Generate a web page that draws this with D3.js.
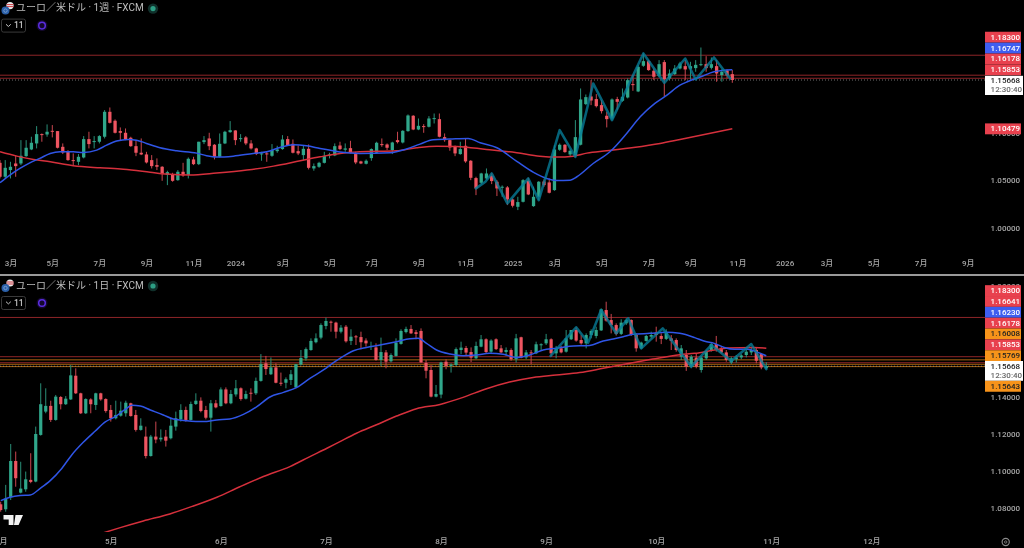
<!DOCTYPE html>
<html><head><meta charset="utf-8">
<script src="https://cdn.jsdelivr.net/npm/d3@7"></script>
<style>
html,body{margin:0;padding:0;background:#000;overflow:hidden}
svg{display:block;filter:blur(.3px)}
text{font-family:Roboto,"Noto Sans CJK JP",sans-serif}
</style></head><body><svg id="c" width="1024" height="548"></svg>
<script>
// ---- weekly pane data ----
const weeklyOpen=[1.0687,1.0539,1.0610,1.0680,1.0680,1.0758,1.0829,1.0893,1.0992,1.0988,
1.1027,1.1024,1.0857,1.0804,1.0716,1.0698,1.0744,1.0939,1.0914,1.0911,
1.0964,1.1229,1.1134,1.1024,1.1006,1.0953,1.0864,1.0794,1.0776,1.0716,
1.0663,1.0645,1.0560,1.0560,1.0503,1.0592,1.0557,1.0723,1.0673,1.0907,
1.0946,1.0879,1.0751,1.0893,1.1013,1.1031,1.0942,1.0957,1.0893,1.0840,
1.0780,1.0787,1.0762,1.0811,1.0833,1.0939,1.0889,1.0811,1.0769,1.0836,
1.0627,1.0645,1.0687,1.0765,1.0765,1.0871,1.0826,1.0843,1.0780,1.0702,
1.0677,1.0737,1.0794,1.0886,1.0882,1.0822,1.0928,1.0903,1.1024,1.1187,
1.1041,1.1077,1.1070,1.1155,1.1151,1.0960,1.0928,1.0857,1.0780,1.0868,
1.0709,1.0525,1.0475,1.0521,1.0549,1.0486,1.0426,1.0426,1.0298,1.0220,
1.0273,1.0496,1.0227,1.0326,1.0489,1.0479,1.0397,1.0826,1.0879,1.0776,
1.0769,1.0879,1.1311,1.1392,1.1364,1.1300,1.1187,1.1158,1.1364,1.1346,
1.1381,1.1523,1.1445,1.1718,1.1767,1.1665,1.1608,1.1757,1.1583,1.1629,
1.1689,1.1714,1.1686,1.1693,1.1725,1.1735,1.1696,1.1714,1.1619,1.1668,1.1629];
const weeklyHigh=[1.0716,1.0716,1.0698,1.0769,1.0928,1.0928,1.0964,1.1077,1.0999,1.1095,
1.1088,1.1024,1.0893,1.0822,1.0787,1.0780,1.0971,1.1017,1.0971,1.0981,
1.1247,1.1275,1.1148,1.1063,1.1052,1.0964,1.0928,1.0946,1.0804,1.0769,
1.0734,1.0652,1.0603,1.0581,1.0610,1.0687,1.0744,1.0751,1.0911,1.0971,
1.1006,1.0886,1.0999,1.1027,1.1130,1.1034,1.0992,1.0971,1.0928,1.0847,
1.0804,1.0804,1.0886,1.0868,1.0981,1.0971,1.0935,1.0871,1.0871,1.0882,
1.0680,1.0698,1.0804,1.0794,1.0893,1.0911,1.0893,1.0921,1.0804,1.0709,
1.0723,1.0840,1.0911,1.0946,1.0893,1.0911,1.1017,1.1034,1.1201,1.1194,
1.1158,1.1098,1.1183,1.1211,1.1211,1.0999,1.0935,1.0871,1.0911,1.0946,
1.0716,1.0539,1.0581,1.0627,1.0574,1.0503,1.0447,1.0440,1.0309,1.0326,
1.0514,1.0528,1.0433,1.0493,1.0510,1.0521,1.0875,1.0893,1.0886,1.0829,
1.1141,1.1477,1.1413,1.1565,1.1417,1.1353,1.1229,1.1371,1.1388,1.1477,
1.1583,1.1619,1.1725,1.1849,1.1778,1.1689,1.1778,1.1778,1.1679,1.1725,
1.1760,1.1778,1.1760,1.1778,1.1912,1.1820,1.1806,1.1778,1.1679,1.1679,1.1672];
const weeklyLow=[1.0521,1.0521,1.0521,1.0539,1.0663,1.0751,1.0822,1.0840,1.0911,1.0964,
1.0957,1.0840,1.0780,1.0709,1.0656,1.0663,1.0734,1.0840,1.0840,1.0893,
1.0946,1.1105,1.0999,1.0928,1.0928,1.0857,1.0758,1.0769,1.0680,1.0627,
1.0610,1.0496,1.0450,1.0486,1.0496,1.0539,1.0521,1.0663,1.0663,1.0886,
1.0822,1.0723,1.0744,1.0886,1.1006,1.0875,1.0911,1.0875,1.0829,1.0769,
1.0709,1.0698,1.0751,1.0794,1.0826,1.0868,1.0787,1.0769,1.0716,1.0617,
1.0603,1.0634,1.0680,1.0734,1.0758,1.0822,1.0804,1.0787,1.0673,1.0673,
1.0670,1.0709,1.0787,1.0857,1.0822,1.0780,1.0893,1.0893,1.1017,1.1034,
1.1034,1.1006,1.1063,1.1105,1.0957,1.0911,1.0815,1.0758,1.0773,1.0687,
1.0503,1.0344,1.0461,1.0510,1.0461,1.0334,1.0326,1.0238,1.0213,1.0185,
1.0266,1.0344,1.0220,1.0291,1.0433,1.0362,1.0390,1.0815,1.0794,1.0751,
1.0751,1.0872,1.1300,1.1300,1.1275,1.1211,1.1063,1.1141,1.1247,1.1335,
1.1371,1.1452,1.1438,1.1707,1.1665,1.1565,1.1594,1.1388,1.1565,1.1619,
1.1679,1.1565,1.1572,1.1654,1.1714,1.1654,1.1679,1.1548,1.1548,1.1583,1.1537];
const weeklyClose=[1.0539,1.0634,1.0645,1.0652,1.0762,1.0847,1.0900,1.0992,1.0985,1.1017,
1.1017,1.0847,1.0797,1.0716,1.0709,1.0751,1.0939,1.0886,1.0918,1.0971,
1.1229,1.1112,1.1006,1.1006,1.0939,1.0864,1.0794,1.0776,1.0691,1.0652,
1.0645,1.0567,1.0588,1.0496,1.0592,1.0553,1.0730,1.0673,1.0911,1.0928,
1.0864,1.0751,1.0889,1.1017,1.1034,1.0928,1.0949,1.0893,1.0840,1.0780,
1.0787,1.0780,1.0822,1.0829,1.0935,1.0875,1.0794,1.0787,1.0836,1.0634,
1.0652,1.0687,1.0758,1.0776,1.0864,1.0833,1.0840,1.0794,1.0691,1.0680,
1.0709,1.0833,1.0900,1.0875,1.0847,1.0903,1.0907,1.1027,1.1190,1.1041,
1.1080,1.1070,1.1158,1.1162,1.0964,1.0928,1.0850,1.0787,1.0833,1.0702,
1.0528,1.0415,1.0574,1.0574,1.0493,1.0415,1.0433,1.0298,1.0231,1.0270,
1.0503,1.0351,1.0326,1.0486,1.0450,1.0369,1.0829,1.0879,1.0801,1.0815,
1.0960,1.1360,1.1385,1.1349,1.1289,1.1236,1.1151,1.1360,1.1335,1.1388,
1.1565,1.1516,1.1707,1.1767,1.1672,1.1601,1.1735,1.1573,1.1636,1.1689,
1.1742,1.1679,1.1714,1.1728,1.1735,1.1693,1.1735,1.1636,1.1654,1.1615,1.15668];
const weeklyBlueBars=[0,1.9,3.8,5.7,7.6,9.6,11.5,14,15.9,18.5,20.4,22.3,24.5,26.1,28,30.6,33.8,37.6,39.5,41.4,44.6,48.4,51,53.5,56.1,58.6,61.2,63.7,65,68.8,74.6,77.7,80.3,82.8,86,89.5,91.8,95,98.8,102,104.5,106.4,109,110.3,113.4,116.6,119.8,122.4,125.2,127.5,130,131.4,134,136.5,138,140];
const weeklyBlueValues=[1.0475,1.0557,1.0627,1.0687,1.0734,1.0787,1.0804,1.0804,1.0797,1.0822,1.0875,1.0918,1.0935,1.0928,1.0893,1.0847,1.0815,1.0790,1.0762,1.0748,1.0758,1.0787,1.0804,1.0850,1.0879,1.0868,1.0840,1.0815,1.0801,1.0787,1.0794,1.0833,1.0886,1.0932,1.0939,1.0946,1.0900,1.0847,1.0702,1.0585,1.0521,1.0500,1.0503,1.0539,1.0680,1.0804,1.0999,1.1176,1.1318,1.1406,1.1512,1.1548,1.1601,1.1654,1.1668,1.16747];
const weeklyRedBars=[0,3.2,6.4,9.6,14,19.1,23.6,28.7,31.9,36.3,41.4,47.2,52.3,57.4,61.2,65,68.8,75.8,79.7,83.5,87.3,93,98.8,103.2,106.4,109.6,112.2,116,121.1,126.2,130,140];
const weeklyRedValues=[1.0804,1.0758,1.0723,1.0698,1.0656,1.0634,1.0620,1.0588,1.0567,1.0557,1.0578,1.0610,1.0652,1.0709,1.0751,1.0787,1.0804,1.0815,1.0847,1.0864,1.0861,1.0829,1.0794,1.0758,1.0748,1.0758,1.0790,1.0815,1.0850,1.0893,1.0935,1.10479];
const weeklyZigBars=[91,92.8,94,97,101,103,107,110,113.4,117,123,127,131,133,136.5,139.6];
const weeklyZigValues=[1.0415,1.0486,1.0574,1.0256,1.0521,1.0291,1.1034,1.0751,1.1530,1.1141,1.1849,1.1537,1.1795,1.1572,1.1806,1.1583];
const weeklyLevels=[1.183,1.16178,1.15853];
const weeklyTickBars=[2,10,19,28,37,45,54,63,71,80,89,98,106,115,124,132,141,150,158,167,176,185];
const weeklyTickLabels=["3月","5月","7月","9月","11月","2024","3月","5月","7月","9月","11月","2025","3月","5月","7月","9月","11月","2026","3月","5月","7月","9月"];
const weeklyPriceTicks=[1.10,1.05,1.00];
const weeklyStackValues=[1.183,1.16747,1.16178,1.15853];
const weeklyStackKinds=["red","blue","red","red"];
const weeklyMaLabel=1.10479;
const weeklyTitle="ユーロ／米ドル · 1週 · FXCM";

// ---- daily pane data ----
const dailyOpen=[1.0820,1.0793,1.0858,1.1054,1.0883,1.0901,1.0952,1.0943,1.1195,1.1321,
1.1352,1.1276,1.1400,1.1361,1.1387,1.1515,1.1420,1.1312,1.1387,1.1357,
1.1420,1.1389,1.1330,1.1285,1.1299,1.1312,1.1366,1.1303,1.1222,1.1186,
1.1081,1.1186,1.1171,1.1186,1.1177,1.1240,1.1279,1.1330,1.1276,1.1362,
1.1380,1.1330,1.1288,1.1366,1.1351,1.1441,1.1366,1.1414,1.1447,1.1391,
1.1423,1.1420,1.1487,1.1582,1.1523,1.1560,1.1477,1.1477,1.1492,1.1452,
1.1575,1.1609,1.1654,1.1696,1.1721,1.1784,1.1807,1.1802,1.1753,1.1780,
1.1703,1.1728,1.1724,1.1705,1.1674,1.1668,1.1600,1.1641,1.1593,1.1622,
1.1687,1.1751,1.1768,1.1750,1.1757,1.1584,1.1546,1.1402,1.1413,1.1591,
1.1568,1.1573,1.1654,1.1665,1.1643,1.1609,1.1672,1.1712,1.1645,1.1712,
1.1663,1.1643,1.1654,1.1604,1.1723,1.1614,1.1641,1.1636,1.1681,1.1690,
1.1712,1.1636,1.1663,1.1645,1.1712,1.1762,1.1708,1.1690,1.1735,1.1730,
1.1760,1.1870,1.1816,1.1789,1.1741,1.1798,1.1816,1.1735,1.1663,1.1703,
1.1726,1.1748,1.1730,1.1714,1.1717,1.1708,1.1618,1.1627,1.1564,1.1613,
1.1546,1.1609,1.1649,1.1686,1.1663,1.1641,1.1586,1.1604,1.1614,1.1627,
1.1641,1.1654,1.1632,1.1555];
const dailyHigh=[1.0834,1.0925,1.1146,1.1105,1.1050,1.0997,1.1096,1.1240,1.1474,1.1447,
1.1380,1.1411,1.1405,1.1405,1.1573,1.1555,1.1423,1.1393,1.1393,1.1423,
1.1423,1.1393,1.1357,1.1380,1.1375,1.1380,1.1369,1.1330,1.1285,1.1240,
1.1195,1.1267,1.1225,1.1222,1.1285,1.1321,1.1361,1.1348,1.1375,1.1420,
1.1398,1.1352,1.1384,1.1384,1.1452,1.1452,1.1438,1.1492,1.1452,1.1434,
1.1447,1.1505,1.1632,1.1622,1.1614,1.1582,1.1532,1.1506,1.1546,1.1578,
1.1654,1.1668,1.1717,1.1744,1.1798,1.1829,1.1813,1.1807,1.1789,1.1789,
1.1766,1.1735,1.1753,1.1717,1.1699,1.1690,1.1721,1.1654,1.1636,1.1717,
1.1766,1.1780,1.1789,1.1762,1.1771,1.1600,1.1573,1.1465,1.1591,1.1604,
1.1582,1.1668,1.1699,1.1676,1.1668,1.1699,1.1735,1.1717,1.1712,1.1717,
1.1681,1.1668,1.1663,1.1741,1.1726,1.1654,1.1654,1.1699,1.1690,1.1741,
1.1717,1.1676,1.1676,1.1762,1.1762,1.1776,1.1735,1.1744,1.1766,1.1780,
1.1879,1.1915,1.1849,1.1798,1.1820,1.1825,1.1820,1.1744,1.1699,1.1735,
1.1753,1.1780,1.1744,1.1766,1.1735,1.1717,1.1681,1.1654,1.1627,1.1636,
1.1622,1.1654,1.1694,1.1730,1.1672,1.1654,1.1618,1.1627,1.1632,1.1658,
1.1668,1.1668,1.1636,1.1588];
const dailyLow=[1.0780,1.0780,1.0843,1.0915,1.0879,1.0888,1.0934,1.0939,1.1191,1.1312,
1.1265,1.1272,1.1333,1.1357,1.1384,1.1416,1.1308,1.1308,1.1312,1.1330,
1.1380,1.1315,1.1267,1.1279,1.1294,1.1294,1.1294,1.1213,1.1218,1.1068,
1.1078,1.1150,1.1159,1.1132,1.1171,1.1218,1.1267,1.1267,1.1272,1.1357,
1.1317,1.1279,1.1213,1.1339,1.1348,1.1361,1.1361,1.1402,1.1380,1.1387,
1.1375,1.1411,1.1483,1.1519,1.1519,1.1474,1.1460,1.1447,1.1465,1.1447,
1.1571,1.1596,1.1650,1.1690,1.1712,1.1766,1.1753,1.1717,1.1744,1.1694,
1.1681,1.1681,1.1658,1.1672,1.1654,1.1596,1.1568,1.1555,1.1586,1.1618,
1.1683,1.1744,1.1741,1.1712,1.1584,1.1501,1.1398,1.1398,1.1393,1.1550,
1.1532,1.1568,1.1632,1.1622,1.1589,1.1604,1.1669,1.1636,1.1636,1.1654,
1.1636,1.1622,1.1596,1.1586,1.1609,1.1604,1.1577,1.1632,1.1654,1.1681,
1.1618,1.1609,1.1636,1.1640,1.1708,1.1699,1.1683,1.1663,1.1717,1.1717,
1.1757,1.1807,1.1744,1.1732,1.1735,1.1789,1.1730,1.1645,1.1658,1.1699,
1.1717,1.1699,1.1686,1.1708,1.1654,1.1645,1.1600,1.1541,1.1555,1.1555,
1.1532,1.1600,1.1645,1.1645,1.1636,1.1591,1.1577,1.1586,1.1604,1.1614,
1.1627,1.1582,1.1550,1.1550];
const dailyClose=[1.0789,1.0851,1.1054,1.0961,1.0905,1.0955,1.0941,1.1200,1.1361,1.1352,
1.1276,1.1402,1.1361,1.1391,1.1517,1.1420,1.1312,1.1389,1.1361,1.1420,
1.1387,1.1324,1.1285,1.1303,1.1326,1.1369,1.1297,1.1222,1.1245,1.1081,
1.1186,1.1170,1.1180,1.1164,1.1245,1.1285,1.1330,1.1276,1.1362,1.1380,
1.1324,1.1288,1.1366,1.1344,1.1441,1.1366,1.1416,1.1447,1.1389,1.1416,
1.1420,1.1487,1.1578,1.1551,1.1560,1.1477,1.1474,1.1496,1.1523,1.1577,
1.1611,1.1659,1.1703,1.1717,1.1789,1.1811,1.1802,1.1753,1.1775,1.1701,
1.1726,1.1724,1.1696,1.1690,1.1676,1.1600,1.1643,1.1591,1.1627,1.1694,
1.1757,1.1768,1.1744,1.1741,1.1587,1.1542,1.1402,1.1416,1.1587,1.1568,
1.1575,1.1659,1.1667,1.1640,1.1613,1.1676,1.1712,1.1643,1.1705,1.1659,
1.1641,1.1654,1.1604,1.1717,1.1613,1.1641,1.1638,1.1685,1.1685,1.1712,
1.1636,1.1663,1.1641,1.1717,1.1762,1.1705,1.1690,1.1735,1.1757,1.1762,
1.1874,1.1813,1.1789,1.1741,1.1802,1.1816,1.1735,1.1663,1.1694,1.1730,
1.1735,1.1735,1.1714,1.1751,1.1703,1.1654,1.1663,1.1564,1.1618,1.1564,
1.1613,1.1649,1.1686,1.1654,1.1641,1.1600,1.1609,1.1614,1.1625,1.1645,
1.1654,1.1596,1.1560,1.15668];
const dailyBlueBars=[0,1.9,3.9,5.9,7.9,9.9,12.2,14.2,16.5,18.9,20.9,22.9,24.9,26.2,27.9,29.9,32.5,34.5,37.2,40.5,43.2,45.8,48.5,51.2,53.8,56.5,59.2,61.8,64.5,66.5,67.8,70.5,73.1,75.8,79.1,81.8,83.4,85.1,87.1,89.8,92.4,95.1,97.7,100.4,103.1,105.7,108.4,111,113.7,117.7,120.4,122.4,124.4,126.4,129.7,133,135.7,138.7,140.7,142.6,144.6,146.6,149.3,151.3,153];
const dailyBlueValues=[1.0840,1.0858,1.0867,1.0870,1.0906,1.0948,1.1014,1.1087,1.1155,1.1216,1.1265,1.1294,1.1333,1.1355,1.1351,1.1330,1.1303,1.1281,1.1272,1.1267,1.1276,1.1281,1.1306,1.1348,1.1400,1.1425,1.1452,1.1501,1.1546,1.1586,1.1609,1.1650,1.1668,1.1681,1.1699,1.1715,1.1717,1.1690,1.1654,1.1632,1.1623,1.1627,1.1636,1.1631,1.1613,1.1627,1.1654,1.1663,1.1674,1.1679,1.1703,1.1714,1.1726,1.1739,1.1744,1.1750,1.1744,1.1721,1.1701,1.1690,1.1668,1.1658,1.1658,1.1641,1.1623];
const dailyRedBars=[20.2,23.9,28.5,33.8,38.5,43.2,47.8,52.5,57.8,61.8,65.2,67.8,71.1,75.1,79.1,83.1,87.8,92.4,97.1,101.7,106.4,111,115.7,120.4,125.7,130.3,135.7,138.7,142.6,145.3,150.6,153];
const dailyRedValues=[1.0663,1.0694,1.0730,1.0768,1.0811,1.0858,1.0915,1.0970,1.1024,1.1078,1.1123,1.1159,1.1204,1.1250,1.1297,1.1337,1.1360,1.1398,1.1445,1.1481,1.1506,1.1519,1.1532,1.1555,1.1582,1.1605,1.1629,1.1636,1.1654,1.1665,1.1668,1.16641];
const dailyZigBars=[109.9,115,117.4,120,123,125.4,128,132.3,138,142,146,150,153];
const dailyZigValues=[1.1622,1.1777,1.1694,1.1870,1.1744,1.1825,1.1663,1.1771,1.1564,1.1681,1.1595,1.1686,1.1551];
const dailyRedLevels=[1.183,1.16178,1.15853];
const dailyOrangeLevels=[1.16008,1.15769,1.15643];
const dailyTickBars=[0,22,44,65,88,109,131,154,174];
const dailyTickLabels=["4月","5月","6月","7月","8月","9月","10月","11月","12月"];
const dailyPriceTicks=[1.20,1.14,1.12,1.10,1.08];
const dailyStackValues=[1.183,1.16641,1.1623,1.16178,1.16008,1.15853,1.15769];
const dailyStackKinds=["red","red","blue","red","orange","red","orange"];
const dailyOrangeLabel=1.15643;
const dailyTitle="ユーロ／米ドル · 1日 · FXCM";

const lastPrice=1.15668, countdown="12:30:40", indicatorCount="11";

// ---- drawing ----
const svg=d3.select("#c");
const UP="#30a78b",DOWN="#ee5561",UPW="#2a8f78",DOWNW="#c9464f";
const kindFill={red:"#e8414e",blue:"#3e5ef0",orange:"#f7931a"};
const kindText={red:"#fff",blue:"#fff",orange:"#222"};
const LEFT_OF_SCALE=985;

const defs=svg.append("defs");
defs.append("clipPath").attr("id","wclip").append("rect").attr("x",0).attr("y",0).attr("width",LEFT_OF_SCALE).attr("height",256);
defs.append("clipPath").attr("id","dclip").append("rect").attr("x",0).attr("y",278).attr("width",LEFT_OF_SCALE).attr("height",254);

const xW=d3.scaleLinear().domain([0,140]).range([0,732.3]);
const yW=d3.scaleLinear().domain([1,lastPrice]).range([227.5,80]);
const xD=d3.scaleLinear().domain([0,153]).range([0.7,766.3]);
const yD=d3.scaleLinear().domain([1.08,1.14]).range([508,397]);

function drawPane(o){
  const g=svg.append("g").attr("clip-path",`url(#${o.clip})`);
  // levels
  const lv=(vals,c,w)=>g.append("g").selectAll("line").data(vals).join("line")
    .attr("x1",0).attr("x2",LEFT_OF_SCALE).attr("y1",d=>o.y(d)).attr("y2",d=>o.y(d))
    .attr("stroke",c).attr("stroke-width",w);
  lv(o.redLevels,"#8e2528",1);
  if(o.orangeLevels) lv(o.orangeLevels,"#a9640f",1);
  g.append("line").attr("x1",0).attr("x2",LEFT_OF_SCALE).attr("y1",o.y(lastPrice)).attr("y2",o.y(lastPrice))
    .attr("stroke","#8f8f8f").attr("stroke-width",.8).attr("stroke-dasharray","1 2");
  // candles
  const idx=d3.range(o.open.length);
  const cg=g.append("g").selectAll("g").data(idx).join("g");
  cg.append("line").attr("x1",i=>o.x(i)).attr("x2",i=>o.x(i))
    .attr("y1",i=>o.y(o.high[i])).attr("y2",i=>o.y(o.low[i]))
    .attr("stroke",i=>o.close[i]>=o.open[i]?UPW:DOWNW).attr("stroke-width",1);
  cg.append("rect").attr("x",i=>o.x(i)-o.bw/2).attr("width",o.bw)
    .attr("y",i=>o.y(Math.max(o.open[i],o.close[i])))
    .attr("height",i=>Math.max(1,Math.abs(o.y(o.open[i])-o.y(o.close[i]))))
    .attr("fill",i=>o.close[i]>=o.open[i]?UP:DOWN);
  // moving averages
  const line=(bars,vals)=>d3.line().x(i=>o.x(bars[i])).y(i=>o.y(vals[i]))(d3.range(bars.length));
  const smooth=(bars,vals)=>d3.line().curve(d3.curveMonotoneX).x(i=>o.x(bars[i])).y(i=>o.y(vals[i]))(d3.range(bars.length));
  g.append("path").attr("d",smooth(o.redBars,o.redVals)).attr("fill","none").attr("stroke","#d5303c").attr("stroke-width",1.5);
  g.append("path").attr("d",smooth(o.blueBars,o.blueVals)).attr("fill","none").attr("stroke","#2f55e6").attr("stroke-width",1.5);
  g.append("path").attr("d",line(o.zigBars,o.zigVals)).attr("fill","none").attr("stroke","#067d9a").attr("stroke-opacity",.78)
    .attr("stroke-width",2.6).attr("stroke-linejoin","round").attr("stroke-linecap","round");
  // axes
  const xAxis=d3.axisBottom(o.x).tickValues(o.tickBars).tickSize(0).tickPadding(0)
    .tickFormat(d=>o.tickLabels[o.tickBars.indexOf(d)]);
  const ax=svg.append("g").attr("transform",`translate(0,${o.axisY})`).call(xAxis);
  ax.select(".domain").remove();
  ax.selectAll("text").attr("fill","#a6a6a6").attr("font-size",8).attr("font-weight",500).attr("dy",0).attr("y",0)
    .attr("font-family",'Roboto,"Noto Sans CJK JP",sans-serif').attr("dominant-baseline","middle");
  const yAxis=d3.axisRight(o.y).tickValues(o.priceTicks).tickSize(0).tickPadding(0).tickFormat(d3.format(".5f"));
  const ay=svg.append("g").attr("transform","translate(990.6,0)").call(yAxis);
  ay.select(".domain").remove();
  ay.selectAll("text").attr("fill","#a6a6a6").attr("font-size",8).attr("font-weight",500)
    .attr("font-family",'Roboto,sans-serif');
  // title row
  const iconBlue=o.titleY+2, flagY=o.titleY-3;
  svg.append("circle").attr("cx",10).attr("cy",flagY).attr("r",3.6).attr("fill","#e8e8e8");
  svg.append("path").attr("d",`M6.6 ${flagY-1}h7M6.6 ${flagY+1}h7`).attr("stroke","#d03a44").attr("stroke-width",1);
  svg.append("circle").attr("cx",5.5).attr("cy",iconBlue).attr("r",4).attr("fill","#2a5fa8");
  svg.append("circle").attr("cx",5.5).attr("cy",iconBlue).attr("r",1.7).attr("fill","none").attr("stroke","#8fb2dc").attr("stroke-width",.7);
  svg.append("text").attr("x",16).attr("y",o.titleY).attr("dominant-baseline","middle").attr("fill","#bdbdbd")
    .attr("font-size",10).attr("font-family",'"Noto Sans CJK JP",sans-serif').text(o.title);
  svg.append("circle").attr("cx",153).attr("cy",o.titleY).attr("r",5.2).attr("fill","#10302b");
  svg.append("circle").attr("cx",153).attr("cy",o.titleY).attr("r",2.6).attr("fill","#2c9e84");
  // collapsed-indicators box
  const by=o.titleY+17;
  svg.append("rect").attr("x",1.5).attr("y",by-6.5).attr("width",24).attr("height",13).attr("rx",2)
    .attr("fill","none").attr("stroke","#3a3a3a").attr("stroke-width",1);
  svg.append("path").attr("d",`M6 ${by-1.3}l2.4 2.2l2.4 -2.2`).attr("fill","none").attr("stroke","#c4c4c4").attr("stroke-width",1);
  svg.append("text").attr("x",14).attr("y",by+.3).attr("dominant-baseline","middle").attr("fill","#c4c4c4")
    .attr("font-size",8.5).attr("font-weight",500).text(indicatorCount);
  svg.append("circle").attr("cx",42).attr("cy",by).attr("r",5.5).attr("fill","#14082e");
  svg.append("circle").attr("cx",42).attr("cy",by).attr("r",3.3).attr("fill","none").attr("stroke","#5a2de0").attr("stroke-width",1.5);
}

function priceTag(y,h,kind,value){
  svg.append("rect").attr("x",LEFT_OF_SCALE).attr("y",y-h/2).attr("width",36).attr("height",h).attr("fill",kindFill[kind]);
  svg.append("text").attr("x",990.6).attr("y",y+.3).attr("dominant-baseline","middle").attr("fill",kindText[kind])
    .attr("font-size",8).attr("font-weight",500).text(d3.format(".5f")(value));
}
function lastTag(top,hgt,textY1,textY2){
  svg.append("rect").attr("x",LEFT_OF_SCALE).attr("y",top).attr("width",38).attr("height",hgt).attr("fill","#fff");
  svg.append("text").attr("x",990.6).attr("y",textY1).attr("dominant-baseline","middle").attr("fill","#222")
    .attr("font-size",8).attr("font-weight",500).text(d3.format(".5f")(lastPrice));
  svg.append("text").attr("x",990.6).attr("y",textY2).attr("dominant-baseline","middle").attr("fill","#666")
    .attr("font-size",8).attr("font-weight",500).text(countdown);
}

drawPane({clip:"wclip",x:xW,y:yW,bw:3.3,open:weeklyOpen,high:weeklyHigh,low:weeklyLow,close:weeklyClose,
  blueBars:weeklyBlueBars,blueVals:weeklyBlueValues,redBars:weeklyRedBars,redVals:weeklyRedValues,
  zigBars:weeklyZigBars,zigVals:weeklyZigValues,redLevels:weeklyLevels,
  tickBars:weeklyTickBars,tickLabels:weeklyTickLabels,priceTicks:weeklyPriceTicks,axisY:264.3,title:weeklyTitle,titleY:8.6});
drawPane({clip:"dclip",x:xD,y:yD,bw:3.2,open:dailyOpen,high:dailyHigh,low:dailyLow,close:dailyClose,
  blueBars:dailyBlueBars,blueVals:dailyBlueValues,redBars:dailyRedBars,redVals:dailyRedValues,
  zigBars:dailyZigBars,zigVals:dailyZigValues,redLevels:dailyRedLevels,orangeLevels:dailyOrangeLevels,
  tickBars:dailyTickBars,tickLabels:dailyTickLabels,priceTicks:dailyPriceTicks,axisY:541.7,title:dailyTitle,titleY:286});

weeklyStackValues.forEach((v,i)=>priceTag(37.2+i*10.9,10.9,weeklyStackKinds[i],v));
lastTag(75.8,19.2,80.8,90);
priceTag(yW(weeklyMaLabel),10.9,"red",weeklyMaLabel);
dailyStackValues.forEach((v,i)=>priceTag(290.6+i*10.85,10.85,dailyStackKinds[i],v));
lastTag(361,19.8,366.6,375.8);
priceTag(386.3,10.9,"orange",dailyOrangeLabel);

// pane separator
svg.append("rect").attr("x",0).attr("y",274).attr("width",1024).attr("height",2).attr("fill","#9a9a9a");
// TradingView mark
svg.append("path").attr("fill","#f2f2f2").attr("d","M3.5 515h10v10h-4.8v-5.4H3.5zM15.5 515h7.5l-4.4 10h-4.6z");
// settings gear
svg.append("circle").attr("cx",1005.7).attr("cy",542).attr("r",3.6).attr("fill","none").attr("stroke","#8c8c8c").attr("stroke-width",1.1);
svg.append("circle").attr("cx",1005.7).attr("cy",542).attr("r",1.2).attr("fill","none").attr("stroke","#8c8c8c").attr("stroke-width",.8);
</script></body></html>
